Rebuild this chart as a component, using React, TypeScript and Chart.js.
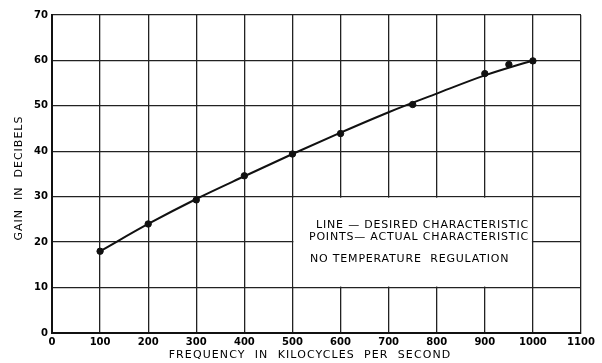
import React, { useEffect, useRef } from "react";
import { Chart, registerables } from "chart.js";

Chart.register(...registerables);

const pointFreq = [100, 200, 300, 400, 500, 600, 750, 900, 950, 1000];
const actualGain = [18, 24, 29.3, 34.6, 39.4, 43.9, 50.3, 57.1, 59.1, 59.9];
const lineFreq = [100, 200, 300, 400, 500, 600, 700, 800, 900, 1000];
const desiredGain = [18, 24, 29.5, 34.5, 39.4, 44.1, 48.6, 52.7, 56.7, 60];
const legendLines = ["LINE \u2014 DESIRED CHARACTERISTIC", "POINTS\u2014 ACTUAL CHARACTERISTIC"];
const noteText = "NO TEMPERATURE  REGULATION";
const xTitle = "FREQUENCY  IN  KILOCYCLES  PER  SECOND";
const yTitle = "GAIN  IN  DECIBELS";

const FONT = '"DejaVu Sans", sans-serif';

export default function App() {
  const ref = useRef<HTMLCanvasElement>(null);
  useEffect(() => {
    document.body.style.margin = "0";
    const legendPlugin = {
      id: "legendBox",
      beforeDatasetsDraw(chart: any) {
        const { ctx, scales } = chart;
        const x = scales.x, y = scales.y;
        const l = x.getPixelForValue(500), r = x.getPixelForValue(1000);
        const t = y.getPixelForValue(30), b = y.getPixelForValue(10);
        ctx.save();
        ctx.fillStyle = "#fff";
        ctx.fillRect(l + 1, t + 1, r - l - 2, b - t - 2);
        ctx.fillStyle = "#000";
        ctx.font = `11px ${FONT}`;
        (ctx as any).letterSpacing = "0.8px";
        ctx.textAlign = "right";
        ctx.textBaseline = "middle";
        ctx.fillText(legendLines[0], r - 4, t + 28);
        ctx.fillText(legendLines[1], r - 4, t + 40);
        ctx.textAlign = "center";
        ctx.fillText(noteText, (l + r) / 2 - 3, t + 62);
        ctx.restore();
      },
      afterDraw(chart: any) {
        const { ctx, chartArea } = chart;
        ctx.save();
        ctx.fillStyle = "#000";
        ctx.font = `11px ${FONT}`;
        (ctx as any).letterSpacing = "1.1px";
        ctx.textAlign = "center";
        ctx.textBaseline = "middle";
        ctx.fillText(xTitle, 310, 355);
        (ctx as any).letterSpacing = "1px";
        ctx.translate(19, 178);
        ctx.rotate(-Math.PI / 2);
        ctx.fillText(yTitle, 0, 0);
        ctx.restore();
      },
    };
    const chart = new Chart(ref.current!, {
      type: "scatter",
      data: {
        datasets: [
          {
            label: "Desired",
            data: lineFreq.map((f, i) => ({ x: f, y: desiredGain[i] })),
            showLine: true,
            borderColor: "#111",
            borderWidth: 2,
            pointRadius: 0,
            tension: 0.4,
            cubicInterpolationMode: "monotone",
          },
          {
            label: "Actual",
            data: pointFreq.map((f, i) => ({ x: f, y: actualGain[i] })),
            showLine: false,
            backgroundColor: "#111",
            borderColor: "#111",
            pointRadius: 3.2,
          },
        ],
      },
      options: {
        animation: false,
        responsive: false,
        layout: { padding: { top: 15, right: 21, left: 0, bottom: 0 } },
        plugins: { legend: { display: false }, tooltip: { enabled: false } },
        scales: {
          x: {
            type: "linear",
            min: 0,
            max: 1100,
            ticks: {
              stepSize: 100,
              color: "#000",
              padding: 3,
              maxRotation: 0,
              font: { family: FONT, size: 10, weight: "bold" },
              callback: (v: any) => String(v),
            },
            grid: { color: "#222", lineWidth: 1.3, drawTicks: false },
            border: { color: "#111", width: 2 },
            afterFit(s: any) { s.height = 30; },
          },
          y: {
            min: 0,
            max: 70,
            ticks: {
              stepSize: 10,
              color: "#000",
              padding: 4,
              font: { family: FONT, size: 10, weight: "bold" },
              callback: (v: any) => String(v),
            },
            grid: { color: "#222", lineWidth: 1.3, drawTicks: false },
            border: { color: "#111", width: 2 },
            afterFit(s: any) { s.width = 52; },
          },
        },
      },
      plugins: [legendPlugin],
    } as any);
    return () => chart.destroy();
  }, []);
  return (
    <div style={{ position: "fixed", left: 0, top: 0, width: 602, height: 363 }}>
      <canvas ref={ref} width={602} height={363} />
    </div>
  );
}
